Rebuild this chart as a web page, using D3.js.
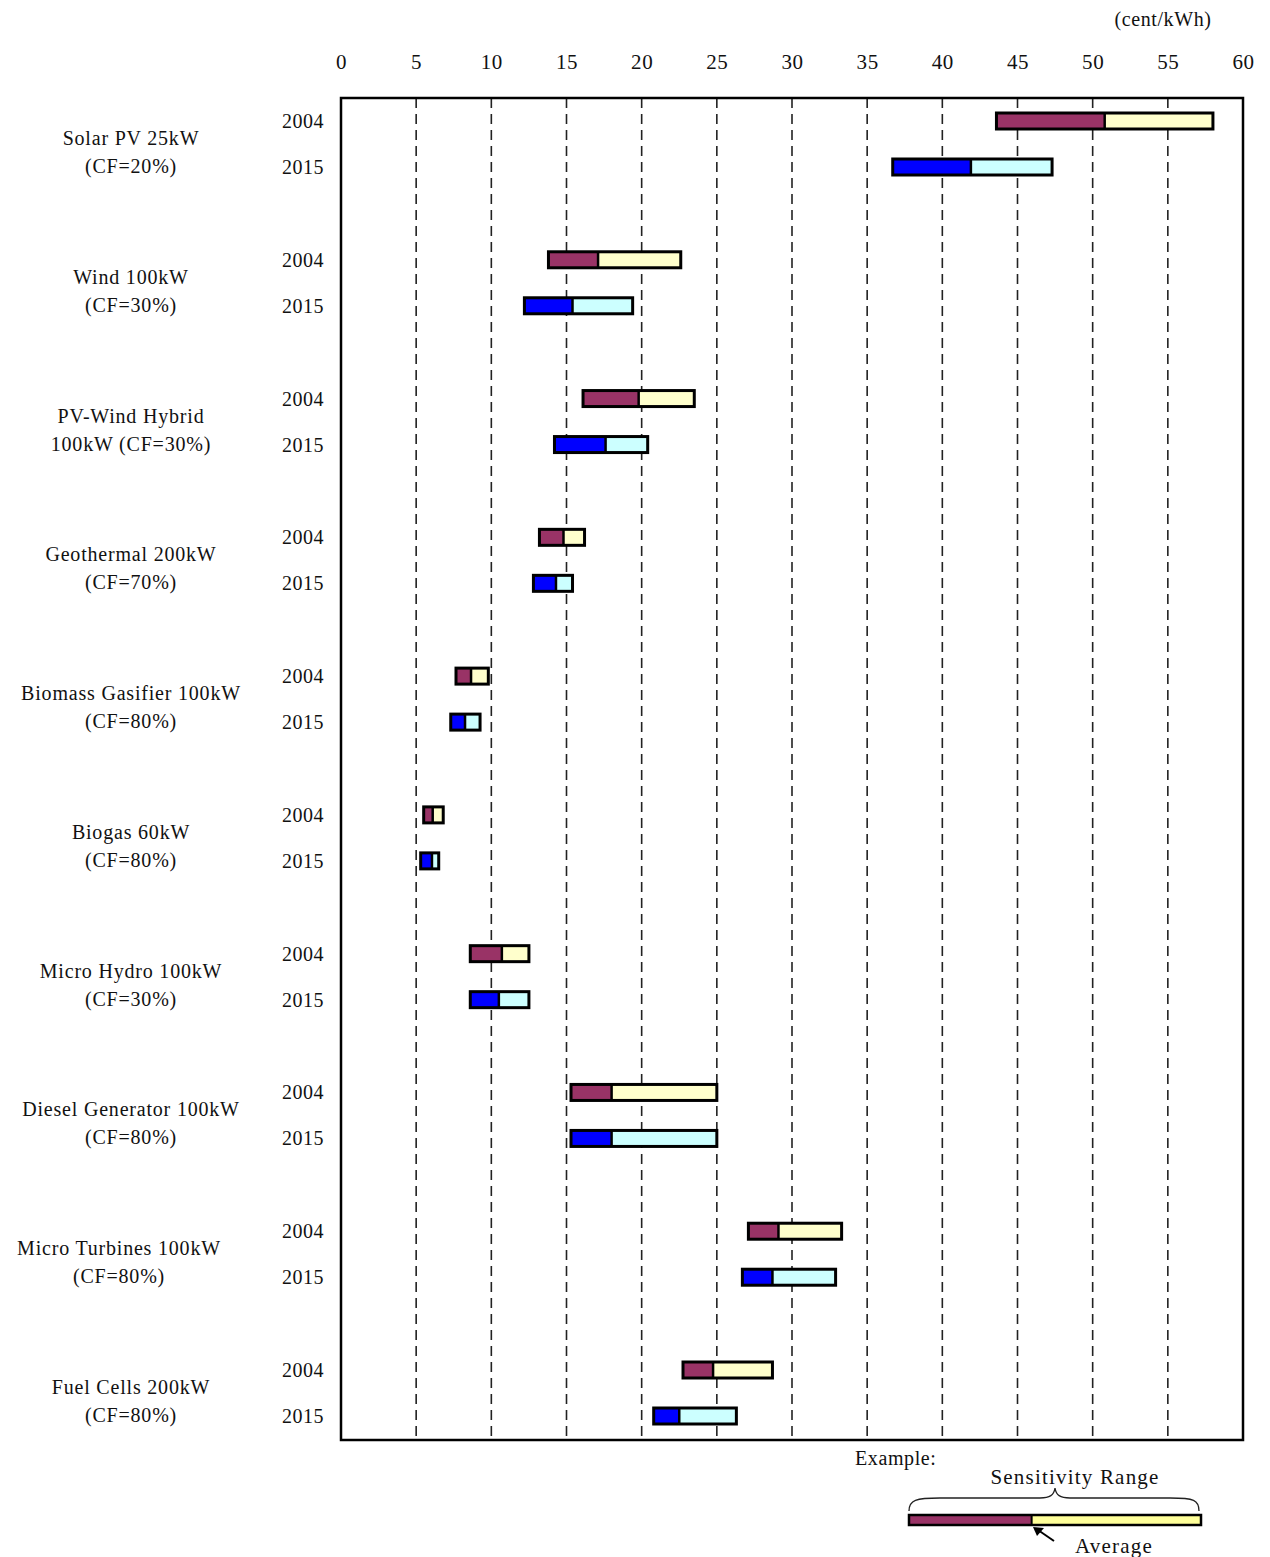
<!DOCTYPE html>
<html>
  <head>
    <meta charset="utf-8">
    <title>Cost of electricity, 2004 and 2015</title>
    <script src="https://cdn.jsdelivr.net/npm/d3@7"></script>
    <style>
      body { margin: 0; background: #fff; }
      text { font-family: "Liberation Serif", "DejaVu Serif", serif; fill: #111; }
    </style>
  </head>
  <body>
    <svg id="chart" width="1270" height="1557"></svg>

    <script>
      // data (cent/kWh): low end, average, high end of the sensitivity range
      techNames = [
        ["Solar PV 25kW", "(CF=20%)"],
        ["Wind 100kW", "(CF=30%)"],
        ["PV-Wind Hybrid", "100kW (CF=30%)"],
        ["Geothermal 200kW", "(CF=70%)"],
        ["Biomass Gasifier 100kW", "(CF=80%)"],
        ["Biogas 60kW", "(CF=80%)"],
        ["Micro Hydro 100kW", "(CF=30%)"],
        ["Diesel Generator 100kW", "(CF=80%)"],
        ["Micro Turbines 100kW", "(CF=80%)"],
        ["Fuel Cells 200kW", "(CF=80%)"]
      ];
      years = ["2004", "2015"];
      low2004  = [43.6, 13.8, 16.1, 13.2, 7.65, 5.5, 8.6, 15.3, 27.1, 22.75];
      avg2004  = [50.8, 17.1, 19.8, 14.8, 8.65, 6.1, 10.7, 18.0, 29.1, 24.75];
      high2004 = [58.0, 22.6, 23.5, 16.2, 9.8, 6.8, 12.5, 25.0, 33.3, 28.7];
      low2015  = [36.7, 12.2, 14.2, 12.8, 7.3, 5.3, 8.6, 15.3, 26.7, 20.8];
      avg2015  = [41.9, 15.4, 17.6, 14.3, 8.25, 6.05, 10.5, 18.0, 28.7, 22.5];
      high2015 = [47.3, 19.4, 20.4, 15.4, 9.25, 6.5, 12.5, 25.0, 32.9, 26.3];
      tickValues = [0, 5, 10, 15, 20, 25, 30, 35, 40, 45, 50, 55, 60];
      unitLabel = "(cent/kWh)";
      legendLow = 0, legendAvg = 0.42, legendHigh = 1;

      // colours
      avgColor = { "2004": "#993366", "2015": "#0000ff" };
      restColor = { "2004": "#ffffcc", "2015": "#ccffff" };

      // elements
      svg = d3.select("#chart");
      plot = { left: 341, right: 1243, top: 98, bottom: 1440 };

      x = d3.scaleLinear()
        .domain([0, 60])
        .range([plot.left, plot.right]);
      groupY = d3.scalePoint()
        .domain(d3.range(techNames.length))
        .range([144, 1393]);
      yearY = d3.scalePoint()
        .domain(years)
        .range([-23, 23]);
      barH = 16;

      rows = [];
      techNames.forEach(function(d, i) {
        rows.push({ tech: i, year: "2004", low: low2004[i], avg: avg2004[i], high: high2004[i] });
        rows.push({ tech: i, year: "2015", low: low2015[i], avg: avg2015[i], high: high2015[i] });
      });

      // grid
      svg.append("g")
        .selectAll("line")
        .data(tickValues.slice(1, -1))
      .enter().append("line")
        .attr("x1", function(d) { return x(d); })
        .attr("x2", function(d) { return x(d); })
        .attr("y1", plot.top)
        .attr("y2", plot.bottom)
        .attr("stroke", "#222")
        .attr("stroke-width", 1.6)
        .attr("stroke-dasharray", "10,6");

      // top axis
      axis = d3.axisTop(x)
        .tickValues(tickValues)
        .tickSize(0)
        .tickPadding(29);
      axisGroup = svg.append("g")
        .attr("transform", "translate(0," + plot.top + ")")
        .call(axis);
      axisGroup.select(".domain").remove();
      axisGroup.selectAll("text")
        .attr("font-family", "Liberation Serif")
        .attr("font-size", 21)
        .attr("letter-spacing", 0.6)
        .attr("fill", "#111");

      svg.append("text")
        .attr("x", 1163)
        .attr("y", 26)
        .attr("text-anchor", "middle")
        .attr("font-size", 20)
        .attr("letter-spacing", 0.6)
        .text(unitLabel);

      // bars
      bars = svg.append("g")
        .selectAll("g")
        .data(rows)
      .enter().append("g")
        .attr("transform", function(d) {
          return "translate(0," + (groupY(d.tech) + yearY(d.year) - barH / 2) + ")";
        });
      bars.append("rect")
        .attr("x", function(d) { return x(d.low); })
        .attr("width", function(d) { return x(d.avg) - x(d.low); })
        .attr("height", barH)
        .attr("fill", function(d) { return avgColor[d.year]; });
      bars.append("rect")
        .attr("x", function(d) { return x(d.avg); })
        .attr("width", function(d) { return x(d.high) - x(d.avg); })
        .attr("height", barH)
        .attr("fill", function(d) { return restColor[d.year]; });
      bars.append("line")
        .attr("x1", function(d) { return x(d.avg); })
        .attr("x2", function(d) { return x(d.avg); })
        .attr("y1", 0)
        .attr("y2", barH)
        .attr("stroke", "#000")
        .attr("stroke-width", 2.5);
      bars.append("rect")
        .attr("x", function(d) { return x(d.low); })
        .attr("width", function(d) { return x(d.high) - x(d.low); })
        .attr("height", barH)
        .attr("fill", "none")
        .attr("stroke", "#000")
        .attr("stroke-width", 3);

      // year labels
      svg.append("g")
        .selectAll("text")
        .data(rows)
      .enter().append("text")
        .attr("x", 324)
        .attr("y", function(d) { return groupY(d.tech) + yearY(d.year) + 7; })
        .attr("text-anchor", "end")
        .attr("font-size", 20)
        .attr("letter-spacing", 0.5)
        .text(function(d) { return d.year; });

      // technology labels
      techLabels = svg.append("g")
        .selectAll("text")
        .data(techNames)
      .enter().append("text")
        .attr("text-anchor", "middle")
        .attr("font-size", 20)
        .attr("letter-spacing", 0.8);
      techLabels.append("tspan")
        .attr("x", function(d, i) { return i == 8 ? 119 : 131; })
        .attr("y", function(d, i) { return groupY(i) + 1; })
        .text(function(d) { return d[0]; });
      techLabels.append("tspan")
        .attr("x", function(d, i) { return i == 8 ? 119 : 131; })
        .attr("y", function(d, i) { return groupY(i) + 29; })
        .text(function(d) { return d[1]; });

      // plot frame
      svg.append("rect")
        .attr("x", plot.left)
        .attr("y", plot.top)
        .attr("width", plot.right - plot.left)
        .attr("height", plot.bottom - plot.top)
        .attr("fill", "none")
        .attr("stroke", "#000")
        .attr("stroke-width", 2.5);

      // legend
      legend = svg.append("g");
      lx = d3.scaleLinear().domain([0, 1]).range([909, 1201]);
      legend.append("text")
        .attr("x", 855)
        .attr("y", 1465)
        .attr("font-size", 20)
        .attr("letter-spacing", 0.6)
        .text("Example:");
      legend.append("text")
        .attr("x", 1075)
        .attr("y", 1484)
        .attr("text-anchor", "middle")
        .attr("font-size", 21)
        .attr("letter-spacing", 1.2)
        .text("Sensitivity Range");
      legend.append("path")
        .attr("d", "M909,1511 C909,1500 916,1498 940,1498 L1040,1498 C1050,1498 1054,1495 1055,1488"
          + " C1056,1495 1060,1498 1070,1498 L1170,1498 C1194,1498 1199,1500 1199,1511")
        .attr("fill", "none")
        .attr("stroke", "#222")
        .attr("stroke-width", 1.3);
      legend.append("rect")
        .attr("x", lx(legendLow))
        .attr("y", 1515)
        .attr("width", lx(legendAvg) - lx(legendLow))
        .attr("height", 10)
        .attr("fill", "#993366");
      legend.append("rect")
        .attr("x", lx(legendAvg))
        .attr("y", 1515)
        .attr("width", lx(legendHigh) - lx(legendAvg))
        .attr("height", 10)
        .attr("fill", "#ffff99");
      legend.append("line")
        .attr("x1", lx(legendAvg))
        .attr("x2", lx(legendAvg))
        .attr("y1", 1515)
        .attr("y2", 1525)
        .attr("stroke", "#000")
        .attr("stroke-width", 2);
      legend.append("rect")
        .attr("x", lx(legendLow))
        .attr("y", 1515)
        .attr("width", lx(legendHigh) - lx(legendLow))
        .attr("height", 10)
        .attr("fill", "none")
        .attr("stroke", "#000")
        .attr("stroke-width", 2.5);
      legend.append("line")
        .attr("x1", 1054)
        .attr("y1", 1541)
        .attr("x2", 1038)
        .attr("y2", 1530)
        .attr("stroke", "#000")
        .attr("stroke-width", 2);
      legend.append("path")
        .attr("d", "M1033,1527 L1044,1528 L1037,1536 Z")
        .attr("fill", "#000");
      legend.append("text")
        .attr("x", 1075)
        .attr("y", 1553)
        .attr("font-size", 21)
        .attr("letter-spacing", 1.2)
        .text("Average");
    </script>
  </body>
</html>
